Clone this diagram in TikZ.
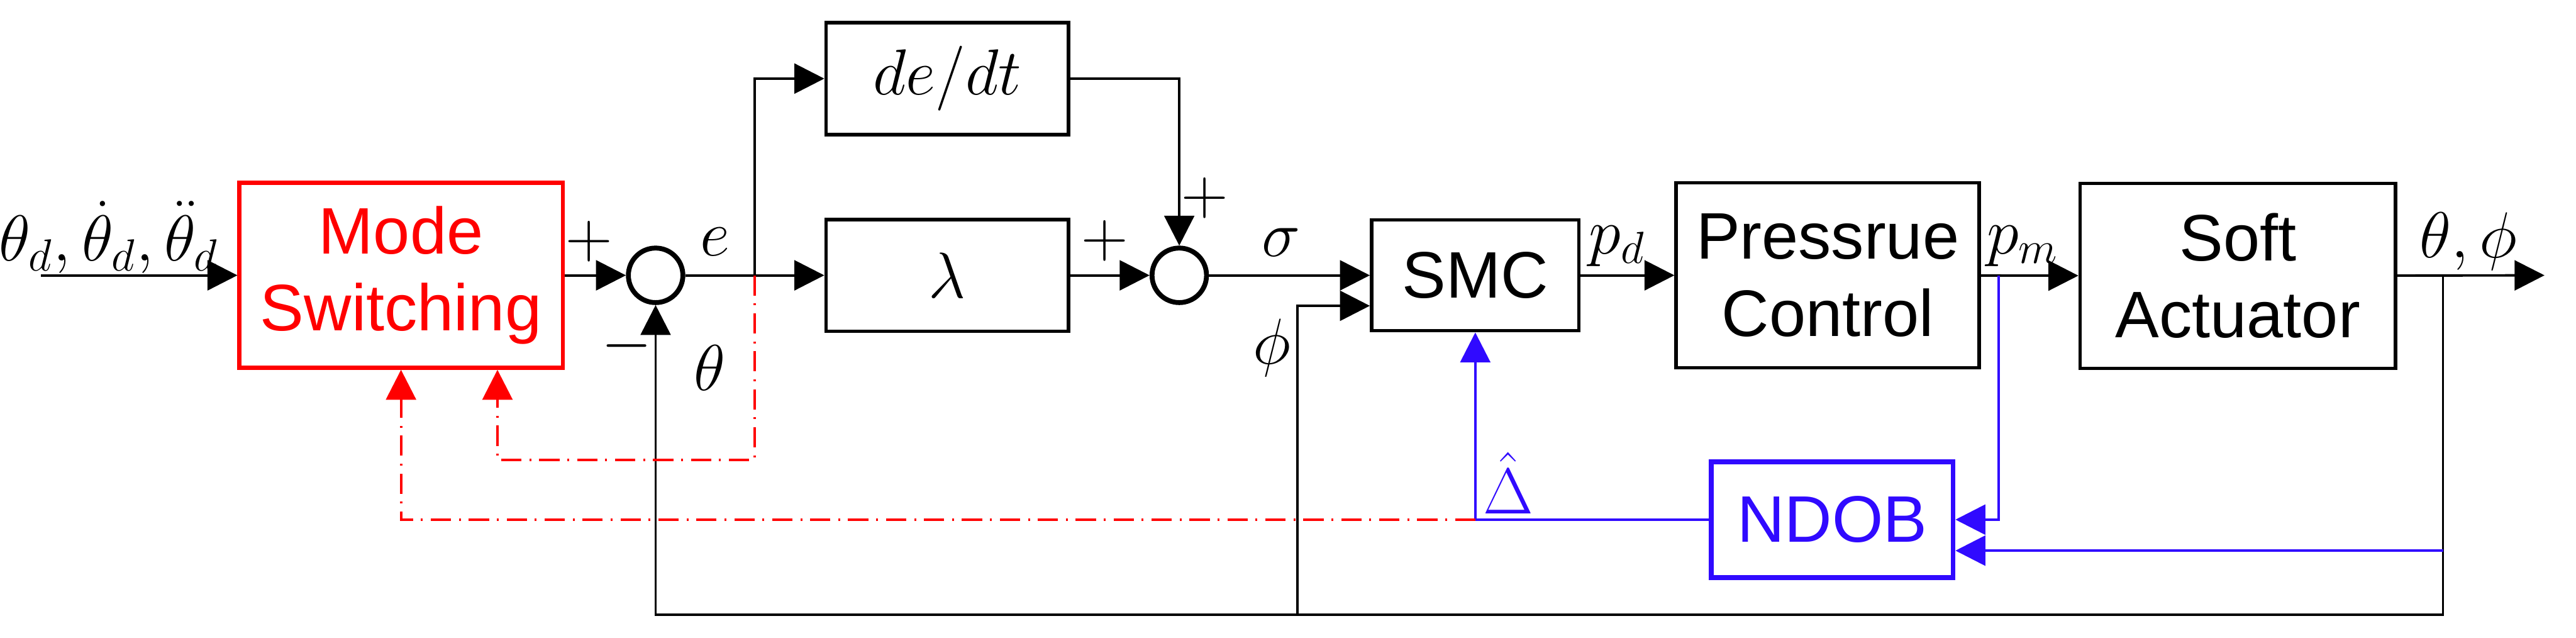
\documentclass[tikz,border=0pt]{standalone}
\usepackage{fontspec}
\setsansfont{Liberation Sans}
\usetikzlibrary{arrows.meta, positioning, calc}

\definecolor{msred}{RGB}{255,0,0}
\definecolor{obsblue}{RGB}{48,10,255}

\begin{document}
\begin{tikzpicture}[
    every node/.style={font=\fontsize{17}{20}\selectfont},
    block/.style={
        rectangle, draw=black, line width=0.95pt,
        minimum width=2.27cm, minimum height=1.045cm,
        align=center, inner sep=2pt,
        font=\fontsize{17.5}{20.5}\selectfont\sffamily
    },
    sumj/.style={
        circle, draw=black, line width=1.3pt,
        minimum size=0.51cm, inner sep=0pt
    },
    lbl/.style={inner sep=1pt},
    arr/.style={
        -{Triangle[length=0.28cm,width=0.28cm]},
        line width=0.65pt, color=black
    },
    wire/.style={line width=0.65pt, color=black},
    barr/.style={
        -{Triangle[length=0.28cm,width=0.28cm]},
        line width=0.65pt, color=obsblue
    },
    bwire/.style={line width=0.65pt, color=obsblue},
    rarr/.style={
        -{Triangle[length=0.28cm,width=0.28cm]},
        line width=0.65pt, color=msred,
        dash pattern=on 5.4pt off 2.1pt on 0.5pt off 2.1pt
    }
]

\useasboundingbox (0,0) rectangle (24.105,-5.965);

%% ── Blocks ──────────────────────────────────────────────────────────
\node[block, draw=msred, text=msred, line width=1.05pt,
      minimum width=3.025cm, minimum height=1.73cm]
      (ms) at (3.7525,-2.575) {Mode\\Switching};
\node[sumj] (sum1) at (6.135,-2.575) {};
\node[block] (dedt) at (8.865,-0.735) {$de/dt$};
\node[block] (lam)  at (8.865,-2.575) {$\lambda$};
\node[sumj] (sum2) at (11.035,-2.575) {};
\node[block, minimum width=1.94cm, minimum height=1.035cm]
      (smc) at (13.805,-2.575) {SMC};
\node[block, minimum width=2.835cm, minimum height=1.73cm]
      (pc) at (17.1025,-2.575) {Pressrue\\Control};
\node[block, minimum width=2.95cm, minimum height=1.73cm]
      (sa) at (20.94,-2.58) {Soft\\Actuator};
\node[block, draw=obsblue, text=obsblue, line width=1.3pt,
      minimum width=2.26cm, minimum height=1.085cm]
      (ndob) at (17.145,-4.86) {NDOB};

%% ── Branch points ───────────────────────────────────────────────────
\coordinate (in)   at (0.385,-2.575);
\coordinate (b1)   at (7.06,-2.575);
\coordinate (pm)   at (18.70,-2.575);
\coordinate (b2)   at (22.86,-2.575);
\coordinate (out)  at (23.81,-2.575);
\coordinate (fb)   at (22.86,-5.75);
\coordinate (nb)   at (22.86,-5.15);
\coordinate (phi0) at (12.14,-5.75);
\coordinate (dh)   at (13.805,-4.86);
\coordinate (rc)   at (7.06,-4.30);

%% ── Forward path ────────────────────────────────────────────────────
\draw[arr]  (in) -- (ms);
\draw[arr]  (ms) -- (sum1);
\draw[wire] (sum1) -- (b1);
\draw[arr]  (b1) -- (lam);
\draw[arr]  (b1) |- (dedt);
\draw[arr]  (lam) -- (sum2);
\draw[arr]  (dedt) -| (sum2);
\draw[arr]  (sum2) -- (smc);
\draw[arr]  (smc) -- (pc);
\draw[arr]  (pc) -- (sa);
\draw[arr]  (sa) -- (out);

%% ── Feedback ────────────────────────────────────────────────────────
\draw[arr]  (b2) -- (fb) -| (sum1);
\draw[arr]  (phi0) |- ([yshift=-0.285cm]smc.west);

%% ── Observer ────────────────────────────────────────────────────────
\draw[barr]  (pm) |- (ndob.east);
\draw[barr]  (nb) -- (nb -| ndob.east);
\draw[bwire] (ndob) -- (dh);
\draw[barr]  (dh) -- (smc);

%% ── Mode switching signals ──────────────────────────────────────────
\draw[rarr] (dh) -| (ms.south);
\draw[rarr] (b1) -- (rc) -| ([xshift=0.9025cm]ms.south);

%% ── Labels ──────────────────────────────────────────────────────────
\node[lbl] (lin)  at (1.02,-2.22)   {$\theta_d,\dot{\theta}_d,\ddot{\theta}_d$};
\node[lbl] (p1)   at (5.515,-2.26)  {$+$};
\node[lbl] (m1)   at (5.865,-3.235) {$-$};
\node[lbl] (le)   at (6.69,-2.26)   {$e$};
\node[lbl] (lth)  at (6.64,-3.44)   {$\theta$};
\node[lbl] (p2)   at (10.335,-2.25) {$+$};
\node[lbl] (p3)   at (11.275,-1.85) {$+$};
\node[lbl] (lsig) at (11.99,-2.265) {$\sigma$};
\node[lbl] (lphi) at (11.9,-3.25)   {$\phi$};
\node[lbl] (lpd)  at (15.135,-2.3)  {$p_d$};
\node[lbl] (lpm)  at (18.93,-2.3)   {$p_m$};
\node[lbl] (lout) at (23.1,-2.26)   {$\theta,\phi$};
\node[lbl, text=obsblue] (ldel) at (14.115,-4.52) {$\hat{\Delta}$};

\end{tikzpicture}
\end{document}
